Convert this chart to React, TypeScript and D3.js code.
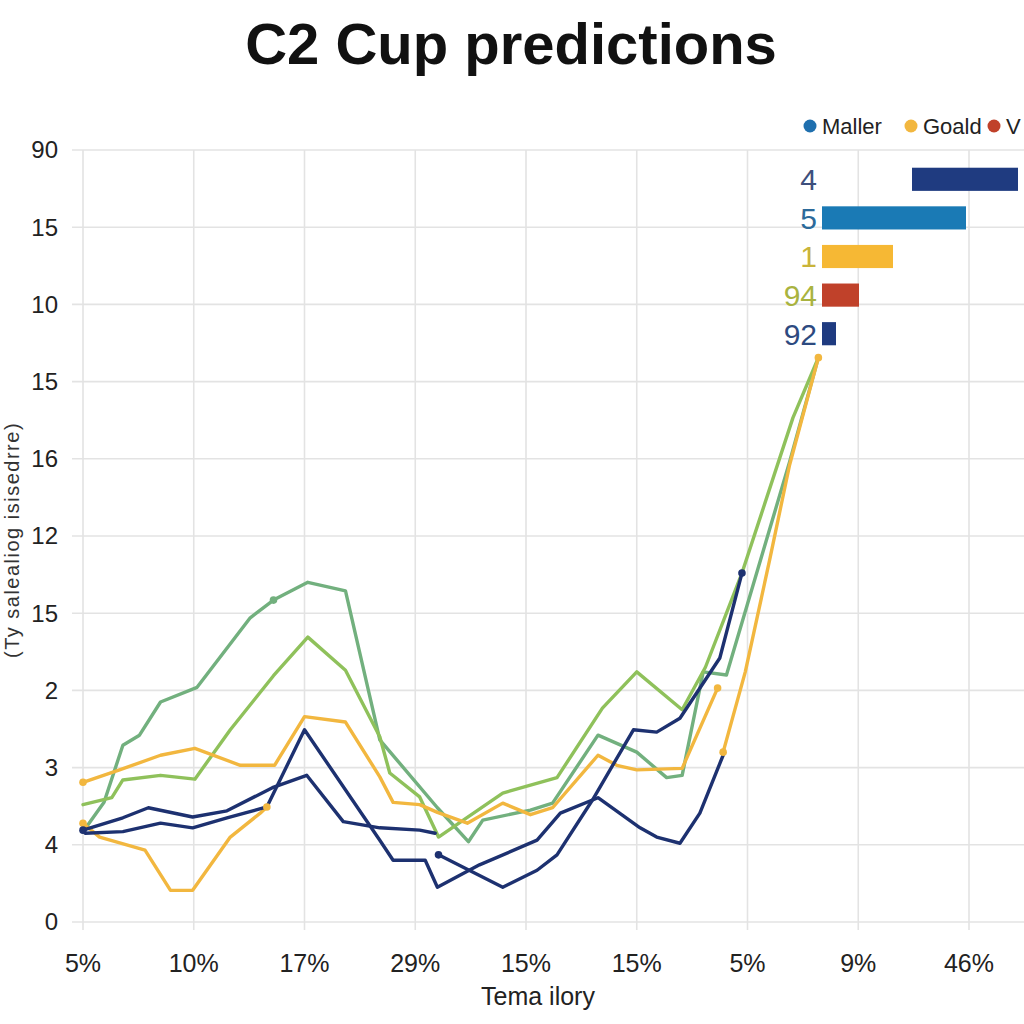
import React from "react";
import * as d3 from "d3";

const TITLE = "C2 Cup predictions";
const X_LABELS = ["5%", "10%", "17%", "29%", "15%", "15%", "5%", "9%", "46%"];
const Y_LABELS = ["0", "4", "3", "2", "15", "12", "16", "15", "10", "15", "90"];
const X_TITLE = "Tema ilory";
const Y_TITLE = "(Ty salealiog isisedrre)";

const LEGEND_NAMES = ["Maller", "Goald", "V"];
const LEGEND_COLORS = ["#1f6fae", "#f2b73f", "#c0412a"];

const BAR_LABELS = ["4", "5", "1", "94", "92"];
const BAR_START = [45, 0, 0, 0, 0];
const BAR_END = [98, 72, 35.5, 18.5, 7];
const BAR_COLORS = ["#1f3b80", "#1a7ab5", "#f6b834", "#c0412a", "#1f3b80"];
const BAR_LABEL_COLORS = ["#3d4f7c", "#2c6a9a", "#c9b43a", "#a9b33f", "#2d4a80"];

const tealLine: [number, number][] = [
  [0, 1.17], [0.19, 1.55], [0.36, 2.29], [0.51, 2.42], [0.7, 2.85], [1.03, 3.04],
  [1.51, 3.94], [1.72, 4.17], [2.03, 4.4], [2.37, 4.29], [2.68, 2.36], [3.2, 1.48],
  [3.48, 1.04], [3.61, 1.32], [4.04, 1.45], [4.24, 1.54], [4.65, 2.42], [5.0, 2.2],
  [5.27, 1.87], [5.41, 1.9], [5.6, 3.24], [5.81, 3.2], [6.38, 5.96], [6.64, 7.31],
];
const greenLine: [number, number][] = [
  [0, 1.52], [0.26, 1.61], [0.36, 1.84], [0.7, 1.9], [1.01, 1.85], [1.33, 2.49],
  [1.72, 3.19], [2.03, 3.69], [2.37, 3.26], [2.68, 2.4], [2.77, 1.93], [3.04, 1.62],
  [3.21, 1.1], [3.79, 1.67], [4.28, 1.87], [4.69, 2.77], [5.0, 3.24], [5.41, 2.75],
  [5.62, 3.3], [5.95, 4.52], [6.41, 6.53], [6.64, 7.31],
];
const orangeUpper: [number, number][] = [
  [0, 1.81], [0.33, 1.97], [0.7, 2.16], [1.01, 2.25], [1.42, 2.03], [1.73, 2.03],
  [2.0, 2.66], [2.37, 2.59], [2.68, 1.88], [2.8, 1.55], [3.04, 1.52], [3.2, 1.42],
  [3.47, 1.28], [3.79, 1.54], [4.04, 1.39], [4.24, 1.48], [4.65, 2.16], [4.82, 2.03],
  [5.0, 1.97], [5.41, 1.99], [5.73, 3.03],
];
const orangeLower: [number, number][] = [
  [0, 1.28], [0.15, 1.1], [0.56, 0.93], [0.79, 0.41], [0.99, 0.41], [1.33, 1.1],
  [1.6, 1.41], [1.66, 1.49],
];
const orangeRise: [number, number][] = [
  [5.78, 2.2], [5.98, 3.24], [6.2, 4.69], [6.38, 5.92], [6.64, 7.31],
];
const navyA: [number, number][] = [
  [0, 1.19], [0.36, 1.35], [0.59, 1.48], [0.99, 1.36], [1.3, 1.44], [1.71, 1.74],
  [2.02, 1.9], [2.35, 1.3], [2.68, 1.22], [3.04, 1.19], [3.18, 1.15],
];
const navyB: [number, number][] = [
  [0.02, 1.15], [0.36, 1.17], [0.7, 1.28], [0.99, 1.22], [1.3, 1.35], [1.66, 1.49],
  [2.0, 2.49], [2.68, 1.06], [2.8, 0.8], [3.09, 0.8], [3.2, 0.45], [3.58, 0.74],
  [4.1, 1.06], [4.31, 1.41], [4.65, 1.61], [5.03, 1.22], [5.18, 1.1], [5.39, 1.02],
  [5.57, 1.41], [5.78, 2.16],
];
const navyC: [number, number][] = [
  [3.21, 0.87], [3.79, 0.45], [4.1, 0.67], [4.28, 0.87], [4.6, 1.58], [4.97, 2.49],
  [5.18, 2.46], [5.39, 2.64], [5.75, 3.42], [5.95, 4.52],
];

const SERIES = [
  { data: tealLine, color: "#72b07e", marks: [7] },
  { data: greenLine, color: "#8fc15b", marks: [] as number[] },
  { data: orangeUpper, color: "#f2b73f", marks: [0, 20] },
  { data: orangeLower, color: "#f2b73f", marks: [0, 7] },
  { data: orangeRise, color: "#f2b73f", marks: [0, 4] },
  { data: navyA, color: "#1d3170", marks: [0] },
  { data: navyB, color: "#1d3170", marks: [] as number[] },
  { data: navyC, color: "#1d3170", marks: [0, 9] },
];

const FONT = "'Liberation Sans', Arial, sans-serif";

export default function App() {
  const x = d3.scaleLinear().domain([0, 8]).range([83, 969]);
  const y = d3.scaleLinear().domain([0, 10]).range([922, 150]);
  const line = d3
    .line<[number, number]>()
    .x((d) => x(d[0]))
    .y((d) => y(d[1]));

  const bx = d3.scaleLinear().domain([0, 100]).range([822, 1022]);
  const by = d3
    .scaleBand<string>()
    .domain(BAR_LABELS.map((l, i) => l + i))
    .range([160, 353])
    .paddingInner(0.4)
    .paddingOuter(0.2);

  return (
    <div style={{ position: "absolute", left: 0, top: 0 }}>
      <svg width={1024} height={1024} style={{ display: "block", background: "#fff" }}>
        <rect width={1024} height={1024} fill="#fff" />
        <text x={511} y={64} textAnchor="middle" fontFamily={FONT} fontWeight="bold" fontSize={58} fill="#111">
          {TITLE}
        </text>

        {/* grid */}
        {Y_LABELS.map((_, i) => (
          <line key={"h" + i} x1={72} x2={1024} y1={y(i)} y2={y(i)} stroke="#e3e3e3" strokeWidth={1.6} />
        ))}
        {X_LABELS.map((_, i) => (
          <line key={"v" + i} x1={x(i)} x2={x(i)} y1={150} y2={930} stroke="#e3e3e3" strokeWidth={1.6} />
        ))}

        {/* y labels */}
        {Y_LABELS.map((t, i) => (
          <text key={"yl" + i} x={58} y={y(i)} dy="0.35em" textAnchor="end" fontFamily={FONT} fontSize={24} fill="#222">
            {t}
          </text>
        ))}
        {/* x labels */}
        {X_LABELS.map((t, i) => (
          <text key={"xl" + i} x={x(i)} y={972} textAnchor="middle" fontFamily={FONT} fontSize={25} fill="#222">
            {t}
          </text>
        ))}
        <text x={538} y={1005} textAnchor="middle" fontFamily={FONT} fontSize={25} fill="#222">
          {X_TITLE}
        </text>
        <text
          transform={`translate(12,540) rotate(-90)`}
          textAnchor="middle"
          dy="0.35em"
          fontFamily={FONT}
          fontSize={20}
          letterSpacing={1.5}
          fill="#333"
        >
          {Y_TITLE}
        </text>

        {/* lines */}
        {SERIES.map((s, i) => (
          <path key={"s" + i} d={line(s.data) || ""} fill="none" stroke={s.color} strokeWidth={3.4} strokeLinejoin="round" strokeLinecap="round" />
        ))}
        {SERIES.map((s, i) =>
          s.marks.map((m) => (
            <circle key={"m" + i + "-" + m} cx={x(s.data[m][0])} cy={y(s.data[m][1])} r={3.8} fill={s.color} />
          ))
        )}

        {/* bars */}
        {BAR_LABELS.map((l, i) => {
          const key = l + i;
          const y0 = by(key) as number;
          return (
            <g key={"b" + i}>
              <rect x={bx(BAR_START[i])} y={y0} width={bx(BAR_END[i]) - bx(BAR_START[i])} height={by.bandwidth()} fill={BAR_COLORS[i]} />
              <text x={817} y={y0 + by.bandwidth() / 2} dy="0.36em" textAnchor="end" fontFamily={FONT} fontSize={30} fill={BAR_LABEL_COLORS[i]}>
                {l}
              </text>
            </g>
          );
        })}

        {/* legend */}
        {LEGEND_NAMES.map((n, i) => {
          const lx = [810, 911, 994][i];
          return (
            <g key={"lg" + i}>
              <circle cx={lx} cy={126} r={6.5} fill={LEGEND_COLORS[i]} />
              <text x={lx + 12} y={126} dy="0.36em" fontFamily={FONT} fontSize={22} fill="#222">
                {n}
              </text>
            </g>
          );
        })}
      </svg>
    </div>
  );
}
